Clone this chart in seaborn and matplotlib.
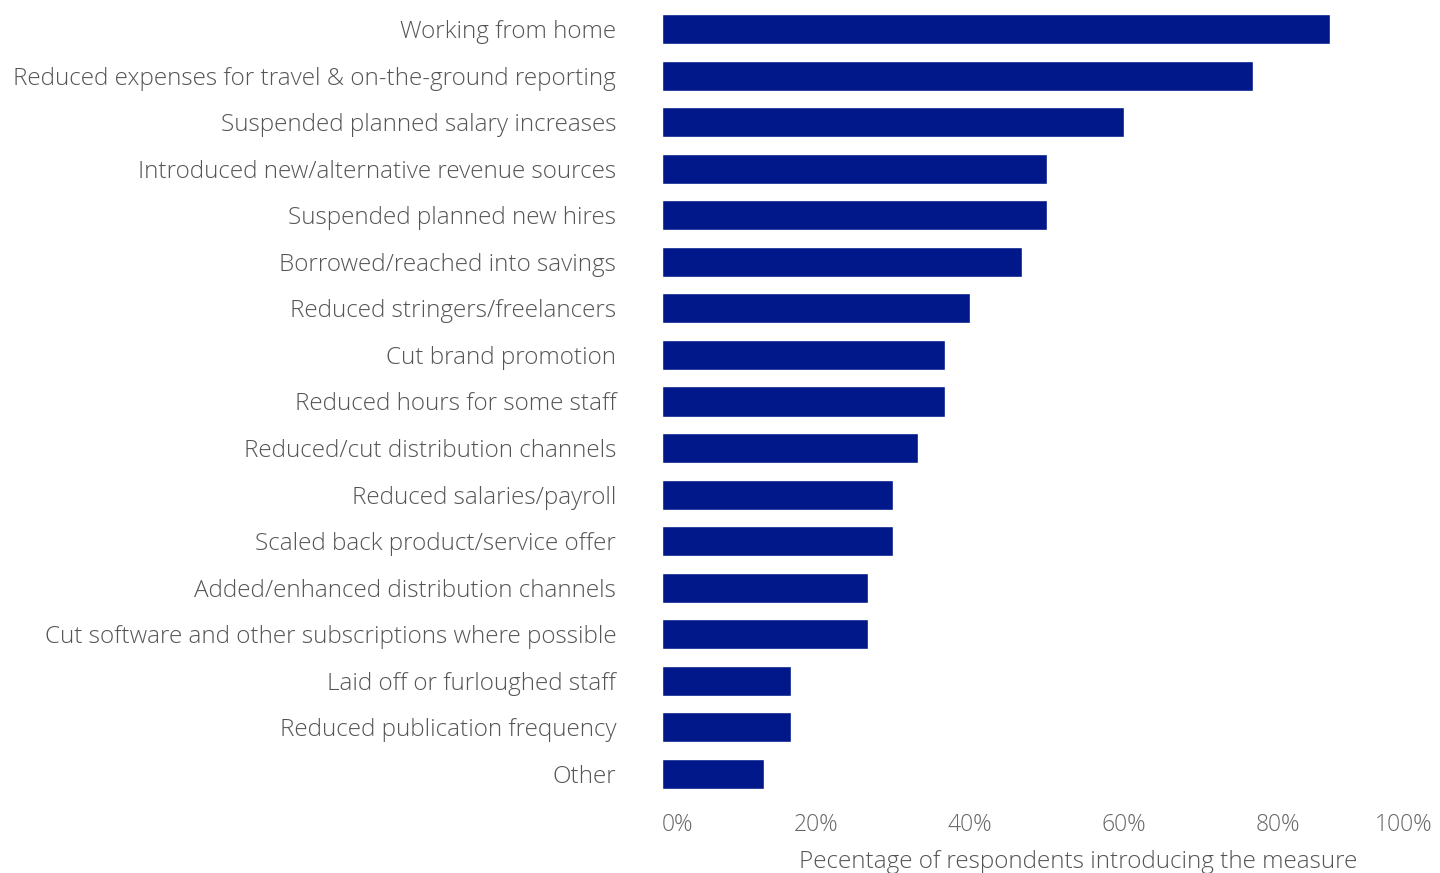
import matplotlib
matplotlib.use("Agg")
import matplotlib.pyplot as plt
import seaborn as sns
import pandas as pd

measures = [
    "Working from home",
    "Reduced expenses for travel & on-the-ground reporting",
    "Suspended planned salary increases",
    "Introduced new/alternative revenue sources",
    "Suspended planned new hires",
    "Borrowed/reached into savings",
    "Reduced stringers/freelancers",
    "Cut brand promotion",
    "Reduced hours for some staff",
    "Reduced/cut distribution channels",
    "Reduced salaries/payroll",
    "Scaled back product/service offer",
    "Added/enhanced distribution channels",
    "Cut software and other subscriptions where possible",
    "Laid off or furloughed staff",
    "Reduced publication frequency",
    "Other",
]
shares = [86.7, 76.7, 60.0, 50.0, 50.0, 46.7, 40.0, 36.7, 36.7, 33.3,
          30.0, 30.0, 26.7, 26.7, 16.7, 16.7, 13.3]
tick_values = [0, 20, 40, 60, 80, 100]
tick_labels = ["0%", "20%", "40%", "60%", "80%", "100%"]

df = pd.DataFrame({"measure": measures, "share": shares})

sns.set_theme(style="white")
plt.rcParams["font.family"] = ["Open Sans", "DejaVu Sans"]

fig = plt.figure(figsize=(14.4, 8.73), dpi=100)
ax = fig.add_axes([662 / 1440, 1 - 797.3 / 873, (1432 - 662) / 1440, (797.3 - 5.7) / 873])

sns.barplot(data=df, x="share", y="measure", orient="h", color="#00188a",
            saturation=1, width=0.645, ax=ax)

ax.set_xlim(0, 100)
ax.set_ylim(len(measures) - 0.5, -0.5)
for s in ax.spines.values():
    s.set_visible(False)
ax.tick_params(axis="both", length=0)

ax.set_yticks(range(len(measures)))
ax.set_yticklabels(measures, fontsize=17.5, color="#555555", fontweight="light")
ax.tick_params(axis="y", pad=33)

ax.set_xticks(tick_values)
ax.set_xticklabels(tick_labels, fontsize=16.5, color="#666666", fontweight="light")
ax.tick_params(axis="x", pad=11)
labels = ax.get_xticklabels()
labels[0].set_ha("left")
labels[-1].set_ha("right")

ax.set_ylabel("")
ax.set_xlabel("Pecentage of respondents introducing the measure",
              fontsize=17.5, color="#555555", fontweight="light")
ax.xaxis.set_label_coords((1078 - 662) / (1432 - 662), -0.066)

fig.savefig("out.png", dpi=100)
